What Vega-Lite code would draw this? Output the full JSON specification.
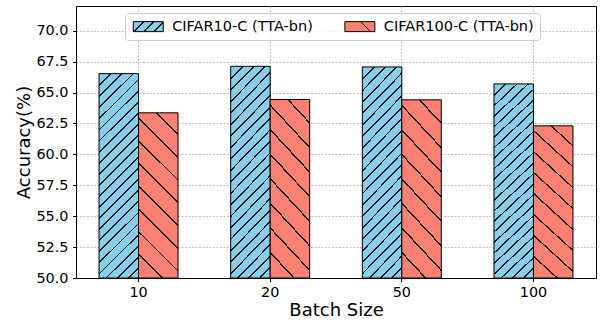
{
  "$schema": "https://vega.github.io/schema/vega-lite/v6.json",
  "width": 520,
  "height": 272,
  "autosize": {"type": "none"},
  "padding": {"left": 76, "top": 6, "right": 9, "bottom": 45},
  "background": "white",
  "config": {
    "font": "DejaVu Sans",
    "view": {"stroke": "black", "strokeWidth": 1},
    "axis": {
      "domainColor": "black", "domainWidth": 1,
      "tickColor": "black", "tickSize": 3.5, "tickWidth": 1,
      "labelColor": "black", "labelFontSize": 14.4, "labelFont": "DejaVu Sans",
      "titleColor": "black", "titleFontSize": 18, "titleFont": "DejaVu Sans", "titleFontWeight": "normal",
      "grid": true, "gridColor": "#b0b0b0", "gridDash": [2, 1.5], "gridWidth": 0.8
    }
  },
  "data": {"values": [
    {"batch": "10", "series": "CIFAR10-C (TTA-bn)", "acc": 66.53},
    {"batch": "10", "series": "CIFAR100-C (TTA-bn)", "acc": 63.36},
    {"batch": "20", "series": "CIFAR10-C (TTA-bn)", "acc": 67.12},
    {"batch": "20", "series": "CIFAR100-C (TTA-bn)", "acc": 64.44},
    {"batch": "50", "series": "CIFAR10-C (TTA-bn)", "acc": 67.07},
    {"batch": "50", "series": "CIFAR100-C (TTA-bn)", "acc": 64.41},
    {"batch": "100", "series": "CIFAR10-C (TTA-bn)", "acc": 65.7},
    {"batch": "100", "series": "CIFAR100-C (TTA-bn)", "acc": 62.31}
  ]},
  "mark": {"type": "bar", "stroke": "black", "strokeWidth": 1},
  "encoding": {
    "x": {
      "field": "batch", "type": "ordinal", "sort": ["10", "20", "50", "100"],
      "scale": {"paddingInner": 0.4, "paddingOuter": 0.175},
      "axis": {"title": "Batch Size", "labelAngle": 0, "labelPadding": 4, "titlePadding": 3}
    },
    "xOffset": {
      "field": "series", "type": "nominal",
      "sort": ["CIFAR10-C (TTA-bn)", "CIFAR100-C (TTA-bn)"],
      "scale": {"paddingInner": 0, "paddingOuter": 0}
    },
    "y": {
      "field": "acc", "type": "quantitative",
      "scale": {"domain": [50, 72], "nice": false, "zero": false},
      "axis": {"title": "Accuracy(%)", "values": [50, 52.5, 55, 57.5, 60, 62.5, 65, 67.5, 70], "format": ".1f", "labelPadding": 4.5, "titlePadding": 2}
    },
    "y2": {"datum": 50},
    "fill": {
      "field": "series", "type": "nominal",
      "scale": {
        "domain": ["CIFAR10-C (TTA-bn)", "CIFAR100-C (TTA-bn)"],
        "range": [
          {"expr": "{gradient: 'linear', x1: 0, y1: 0, x2: 1.2, y2: 0.4, stops: [{offset: 0, color: '#87ceeb'}, {offset: 0.25, color: '#87ceeb'}, {offset: 0.25, color: '#111'}, {offset: 0.29, color: '#111'}, {offset: 0.29, color: '#87ceeb'}, {offset: 0.5, color: '#87ceeb'}, {offset: 0.5, color: '#111'}, {offset: 0.54, color: '#111'}, {offset: 0.54, color: '#87ceeb'}, {offset: 0.75, color: '#87ceeb'}, {offset: 0.75, color: '#111'}, {offset: 0.79, color: '#111'}, {offset: 0.79, color: '#87ceeb'}, {offset: 1, color: '#87ceeb'}]}"},
          {"expr": "{gradient: 'linear', x1: 0, y1: 1, x2: 1.2, y2: 0.6, stops: [{offset: 0, color: '#fa8072'}, {offset: 0.62, color: '#fa8072'}, {offset: 0.62, color: '#111'}, {offset: 0.66, color: '#111'}, {offset: 0.66, color: '#fa8072'}, {offset: 1, color: '#fa8072'}]}"}
        ]
      },
      "condition": [
        {"test": "datum.series === 'CIFAR10-C (TTA-bn)'", "value": {
          "gradient": "linear", "x1": 0, "y1": 0, "x2": 0.2211, "y2": 1.1497,
          "stops": [
            {"offset": 0, "color": "#87ceeb"},
            {"offset": 0.04545, "color": "#87ceeb"}, {"offset": 0.04545, "color": "#111"}, {"offset": 0.05295, "color": "#111"}, {"offset": 0.05295, "color": "#87ceeb"},
            {"offset": 0.09091, "color": "#87ceeb"}, {"offset": 0.09091, "color": "#111"}, {"offset": 0.09841, "color": "#111"}, {"offset": 0.09841, "color": "#87ceeb"},
            {"offset": 0.13636, "color": "#87ceeb"}, {"offset": 0.13636, "color": "#111"}, {"offset": 0.14386, "color": "#111"}, {"offset": 0.14386, "color": "#87ceeb"},
            {"offset": 0.18182, "color": "#87ceeb"}, {"offset": 0.18182, "color": "#111"}, {"offset": 0.18932, "color": "#111"}, {"offset": 0.18932, "color": "#87ceeb"},
            {"offset": 0.22727, "color": "#87ceeb"}, {"offset": 0.22727, "color": "#111"}, {"offset": 0.23477, "color": "#111"}, {"offset": 0.23477, "color": "#87ceeb"},
            {"offset": 0.27273, "color": "#87ceeb"}, {"offset": 0.27273, "color": "#111"}, {"offset": 0.28023, "color": "#111"}, {"offset": 0.28023, "color": "#87ceeb"},
            {"offset": 0.31818, "color": "#87ceeb"}, {"offset": 0.31818, "color": "#111"}, {"offset": 0.32568, "color": "#111"}, {"offset": 0.32568, "color": "#87ceeb"},
            {"offset": 0.36364, "color": "#87ceeb"}, {"offset": 0.36364, "color": "#111"}, {"offset": 0.37114, "color": "#111"}, {"offset": 0.37114, "color": "#87ceeb"},
            {"offset": 0.40909, "color": "#87ceeb"}, {"offset": 0.40909, "color": "#111"}, {"offset": 0.41659, "color": "#111"}, {"offset": 0.41659, "color": "#87ceeb"},
            {"offset": 0.45455, "color": "#87ceeb"}, {"offset": 0.45455, "color": "#111"}, {"offset": 0.46205, "color": "#111"}, {"offset": 0.46205, "color": "#87ceeb"},
            {"offset": 0.5, "color": "#87ceeb"}, {"offset": 0.5, "color": "#111"}, {"offset": 0.5075, "color": "#111"}, {"offset": 0.5075, "color": "#87ceeb"},
            {"offset": 0.54545, "color": "#87ceeb"}, {"offset": 0.54545, "color": "#111"}, {"offset": 0.55295, "color": "#111"}, {"offset": 0.55295, "color": "#87ceeb"},
            {"offset": 0.59091, "color": "#87ceeb"}, {"offset": 0.59091, "color": "#111"}, {"offset": 0.59841, "color": "#111"}, {"offset": 0.59841, "color": "#87ceeb"},
            {"offset": 0.63636, "color": "#87ceeb"}, {"offset": 0.63636, "color": "#111"}, {"offset": 0.64386, "color": "#111"}, {"offset": 0.64386, "color": "#87ceeb"},
            {"offset": 0.68182, "color": "#87ceeb"}, {"offset": 0.68182, "color": "#111"}, {"offset": 0.68932, "color": "#111"}, {"offset": 0.68932, "color": "#87ceeb"},
            {"offset": 0.72727, "color": "#87ceeb"}, {"offset": 0.72727, "color": "#111"}, {"offset": 0.73477, "color": "#111"}, {"offset": 0.73477, "color": "#87ceeb"},
            {"offset": 0.77273, "color": "#87ceeb"}, {"offset": 0.77273, "color": "#111"}, {"offset": 0.78023, "color": "#111"}, {"offset": 0.78023, "color": "#87ceeb"},
            {"offset": 0.81818, "color": "#87ceeb"}, {"offset": 0.81818, "color": "#111"}, {"offset": 0.82568, "color": "#111"}, {"offset": 0.82568, "color": "#87ceeb"},
            {"offset": 0.86364, "color": "#87ceeb"}, {"offset": 0.86364, "color": "#111"}, {"offset": 0.87114, "color": "#111"}, {"offset": 0.87114, "color": "#87ceeb"},
            {"offset": 0.90909, "color": "#87ceeb"}, {"offset": 0.90909, "color": "#111"}, {"offset": 0.91659, "color": "#111"}, {"offset": 0.91659, "color": "#87ceeb"},
            {"offset": 0.95455, "color": "#87ceeb"}, {"offset": 0.95455, "color": "#111"}, {"offset": 0.96205, "color": "#111"}, {"offset": 0.96205, "color": "#87ceeb"},
            {"offset": 1, "color": "#87ceeb"}
          ]}},
        {"test": "datum.series === 'CIFAR100-C (TTA-bn)'", "value": {
          "gradient": "linear", "x1": 0, "y1": 1, "x2": 0.279, "y2": -0.172,
          "stops": [
            {"offset": 0, "color": "#fa8072"},
            {"offset": 0.11111, "color": "#fa8072"}, {"offset": 0.11111, "color": "#111"}, {"offset": 0.12011, "color": "#111"}, {"offset": 0.12011, "color": "#fa8072"},
            {"offset": 0.22222, "color": "#fa8072"}, {"offset": 0.22222, "color": "#111"}, {"offset": 0.23122, "color": "#111"}, {"offset": 0.23122, "color": "#fa8072"},
            {"offset": 0.33333, "color": "#fa8072"}, {"offset": 0.33333, "color": "#111"}, {"offset": 0.34233, "color": "#111"}, {"offset": 0.34233, "color": "#fa8072"},
            {"offset": 0.44444, "color": "#fa8072"}, {"offset": 0.44444, "color": "#111"}, {"offset": 0.45344, "color": "#111"}, {"offset": 0.45344, "color": "#fa8072"},
            {"offset": 0.55556, "color": "#fa8072"}, {"offset": 0.55556, "color": "#111"}, {"offset": 0.56456, "color": "#111"}, {"offset": 0.56456, "color": "#fa8072"},
            {"offset": 0.66667, "color": "#fa8072"}, {"offset": 0.66667, "color": "#111"}, {"offset": 0.67567, "color": "#111"}, {"offset": 0.67567, "color": "#fa8072"},
            {"offset": 0.77778, "color": "#fa8072"}, {"offset": 0.77778, "color": "#111"}, {"offset": 0.78678, "color": "#111"}, {"offset": 0.78678, "color": "#fa8072"},
            {"offset": 0.88889, "color": "#fa8072"}, {"offset": 0.88889, "color": "#111"}, {"offset": 0.89789, "color": "#111"}, {"offset": 0.89789, "color": "#fa8072"},
            {"offset": 1, "color": "#fa8072"}
          ]}}
      ],
      "legend": {
        "title": null,
        "orient": "none", "legendX": 49, "legendY": 7,
        "direction": "horizontal",
        "symbolType": "M-3,-1H3V1H-3Z",
        "symbolSize": 100,
        "symbolOffset": 10,
        "symbolStrokeColor": "black", "symbolStrokeWidth": 1,
        "labelFontSize": 14.5, "labelColor": "black", "labelFont": "DejaVu Sans",
        "labelOffset": 16.7,
        "columnPadding": 29.6,
        "padding": 6,
        "strokeColor": "#cccccc", "cornerRadius": 3, "fillColor": "rgba(255,255,255,0.8)"
      }
    }
  }
}
